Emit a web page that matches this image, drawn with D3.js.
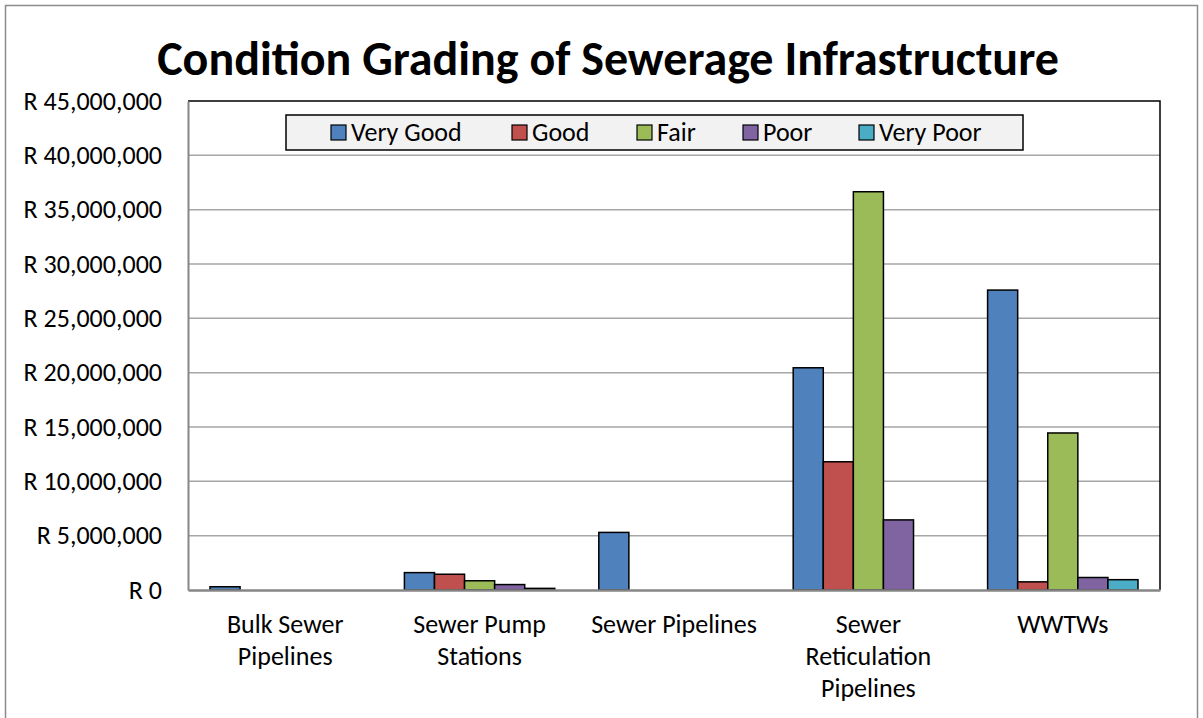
<!DOCTYPE html>
<html lang="en">
<head>
  <meta charset="UTF-8">
  <title>Condition Grading of Sewerage Infrastructure</title>
  <style>
    body { margin: 0; background: #fff; }
    svg { display: block; font-family: Carlito, Calibri, "Open Sans", sans-serif; }
  </style>
</head>
<body>
  <div id="chart"></div>
  <script src="https://d3js.org/d3.v7.min.js"></script>
  <script>
    var categories = [['Bulk Sewer', 'Pipelines'], ['Sewer Pump', 'Stations'], ['Sewer Pipelines'],
      ['Sewer', 'Reticulation', 'Pipelines'], ['WWTWs']]
    var series = ['Very Good', 'Good', 'Fair', 'Poor', 'Very Poor']
    var colors = ['#4F81BD', '#C0504D', '#9BBB59', '#8064A2', '#4BACC6']
    // values per series, one per category
    var veryGood = [300000, 1600000, 5300000, 20450000, 27600000]
    var good = [0, 1450000, 0, 11800000, 750000]
    var fair = [0, 850000, 0, 36650000, 14450000]
    var poor = [0, 500000, 0, 6450000, 1150000]
    var veryPoor = [0, 150000, 0, 0, 950000]
    var yTicks = [0, 5e6, 10e6, 15e6, 20e6, 25e6, 30e6, 35e6, 40e6, 45e6]

    var values = [veryGood, good, fair, poor, veryPoor]
    var width = 1203, height = 718
    var plotL = 188, plotR = 1160, plotT = 101, plotB = 590
    var font = 'Carlito, Calibri, "Open Sans", sans-serif'

    var svg = d3.select('#chart').append('svg')
      .attr('width', width).attr('height', height)

    // outer frame
    svg.append('rect').attr('x', 5.5).attr('y', 5.5).attr('width', 1192).attr('height', 720)
      .attr('fill', '#fff').attr('stroke', '#8c8c8c').attr('stroke-width', 1.5)

    svg.append('text').attr('x', 608).attr('y', 75).attr('text-anchor', 'middle')
      .attr('font-size', 48).attr('font-weight', 'bold').attr('fill', '#000')
      .text('Condition Grading of Sewerage Infrastructure')

    var y = d3.scaleLinear().domain([0, 45e6]).range([plotB, plotT])
    var x0 = d3.scaleBand().domain(d3.range(categories.length)).range([plotL, plotR])
    var x1 = d3.scaleBand().domain(d3.range(series.length)).range([22, x0.bandwidth() - 22])

    // gridlines
    svg.append('g').selectAll('line').data(yTicks.slice(1, -1)).enter().append('line')
      .attr('x1', plotL).attr('x2', plotR)
      .attr('y1', function(d) { return y(d) }).attr('y2', function(d) { return y(d) })
      .attr('stroke', '#a6a6a6').attr('stroke-width', 1.5)

    // plot frame top/right
    svg.append('path').attr('d', 'M' + plotL + ',' + plotT + 'H' + plotR + 'V' + plotB)
      .attr('fill', 'none').attr('stroke', '#000').attr('stroke-width', 1.5)

    // y axis
    var yAxis = d3.axisLeft(y).tickValues(yTicks).tickSize(0).tickPadding(26)
      .tickFormat(function(d) { return 'R ' + d3.format(',')(d) })
    var ya = svg.append('g').attr('transform', 'translate(' + plotL + ',0)').call(yAxis)
    ya.attr('font-size', null).attr('font-family', null)
    ya.select('.domain').attr('stroke', '#868686').attr('stroke-width', 2)
    ya.selectAll('text').attr('font-size', 26).attr('fill', '#000').attr('font-family', font)

    // bars
    var groups = svg.append('g').selectAll('g').data(categories).enter().append('g')
      .attr('transform', function(d, i) { return 'translate(' + x0(i) + ',0)' })
    groups.selectAll('rect').data(function(d, i) {
      return series.map(function(s, j) { return {j: j, v: values[j][i]} })
    }).enter().filter(function(d) { return d.v > 0 }).append('rect')
      .attr('x', function(d) { return x1(d.j) })
      .attr('width', x1.bandwidth())
      .attr('y', function(d) { return y(d.v) })
      .attr('height', function(d) { return plotB - y(d.v) })
      .attr('fill', function(d) { return colors[d.j] })
      .attr('stroke', '#000').attr('stroke-width', 1.5)

    // x axis
    var xAxis = d3.axisBottom(x0).tickSize(0).tickFormat('')
    var xa = svg.append('g').attr('transform', 'translate(0,' + plotB + ')').call(xAxis)
    xa.select('.domain').attr('stroke', '#868686').attr('stroke-width', 2.5)
    xa.selectAll('.tick').each(function(d) {
      var t = d3.select(this).append('text').attr('fill', '#000').attr('font-size', 26)
        .attr('text-anchor', 'middle').attr('font-family', font)
      categories[d].forEach(function(line, k) {
        t.append('tspan').attr('x', 0).attr('y', 43 + k * 32).text(line)
      })
    })

    // legend
    var lg = svg.append('g')
    lg.append('rect').attr('x', 286).attr('y', 115).attr('width', 737).attr('height', 35)
      .attr('fill', '#f2f2f2').attr('stroke', '#000').attr('stroke-width', 1.5)
    var legendX = [331, 512, 637, 743, 859]
    series.forEach(function(s, j) {
      lg.append('rect').attr('x', legendX[j]).attr('y', 125).attr('width', 15).attr('height', 15)
        .attr('fill', colors[j]).attr('stroke', '#000').attr('stroke-width', 1.2)
      lg.append('text').attr('x', legendX[j] + 20).attr('y', 141).attr('font-size', 26)
        .attr('fill', '#000').text(s)
    })
  </script>
</body>
</html>
